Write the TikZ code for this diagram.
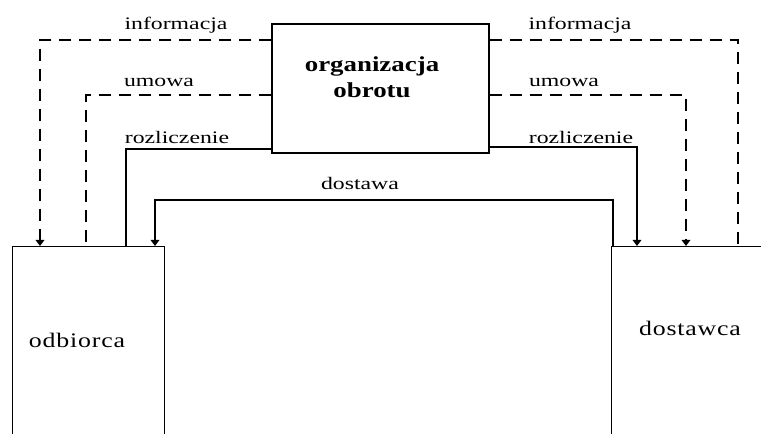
\documentclass[tikz,border=0pt]{standalone}
\usepackage{fontspec}
\setmainfont{Liberation Serif}
\newfontfamily\flowfont[FakeStretch=1.35]{Liberation Serif}
\newfontfamily\orgfont[FakeStretch=1.26]{Liberation Serif Bold}
\newfontfamily\partyfont[FakeStretch=1.25,LetterSpace=4]{Liberation Serif}
\usetikzlibrary{arrows.meta}
\begin{document}
\begin{tikzpicture}[x=0.75pt,y=-0.75pt,
  box/.style={draw,line width=0.9pt,rectangle,inner sep=0pt},
  flow/.style={line width=0.9pt},
  dflow/.style={flow,dash pattern=on 9pt off 6pt},
  tip/.style={-{Triangle[width=6.5pt,length=4.5pt]}},
  flowlabel/.style={font=\flowfont\fontsize{13.2pt}{15pt}\selectfont,inner sep=0pt},
  partylabel/.style={font=\partyfont\fontsize{15.5pt}{18pt}\selectfont,inner sep=0pt}]
\clip (0,0) rectangle (761,434);
\fill[white] (0,0) rectangle (761,434);

% the three parties
\node[box,minimum width=162.75pt,minimum height=96.75pt] (org) at (380.5,88.5) {};
\node[box,anchor=north west,minimum width=114pt,minimum height=300pt] (odb) at (12,246) {};
\node[box,anchor=north west,minimum width=160pt,minimum height=300pt] (dost) at (611,246) {};

\node[align=center,inner sep=0pt,font=\orgfont\fontsize{16pt}{19.5pt}\selectfont] (orgname) at (372,77) {organizacja\\obrotu};
\node[partylabel] (odbname) at (77,340) {odbiorca};
\node[partylabel] (dostname) at (690,328) {dostawca};

% flows to the buyer
\draw[dflow,tip] (org.west |- 0,40) -| (odb.north -| 40,0);
\draw[dflow] (org.west |- 0,95) -| (odb.north -| 86,0);
\draw[flow] (org.west |- 0,149) -| (odb.north -| 126,0);

% flows to the supplier
\draw[dflow] (org.east |- 0,40) -| (dost.north -| 738,0);
\draw[dflow,tip] (org.east |- 0,95) -| (dost.north -| 686,0);
\draw[flow,tip] (org.east |- 0,147) -| (dost.north -| 637,0);

% delivery from supplier to buyer
\draw[flow,tip] (dost.north -| 613,0) |- (0,200 -| 155,0) -- (odb.north -| 155,0);

% flow labels
\node[flowlabel] (infL) at (176,25) {informacja};
\node[flowlabel] (umL) at (159,82) {umowa};
\node[flowlabel] (rozL) at (177,137) {rozliczenie};
\node[flowlabel] (infR) at (580,25) {informacja};
\node[flowlabel] (umR) at (564,82) {umowa};
\node[flowlabel] (rozR) at (581,137) {rozliczenie};
\node[flowlabel] (dosL) at (360,183) {dostawa};
\end{tikzpicture}
\end{document}
